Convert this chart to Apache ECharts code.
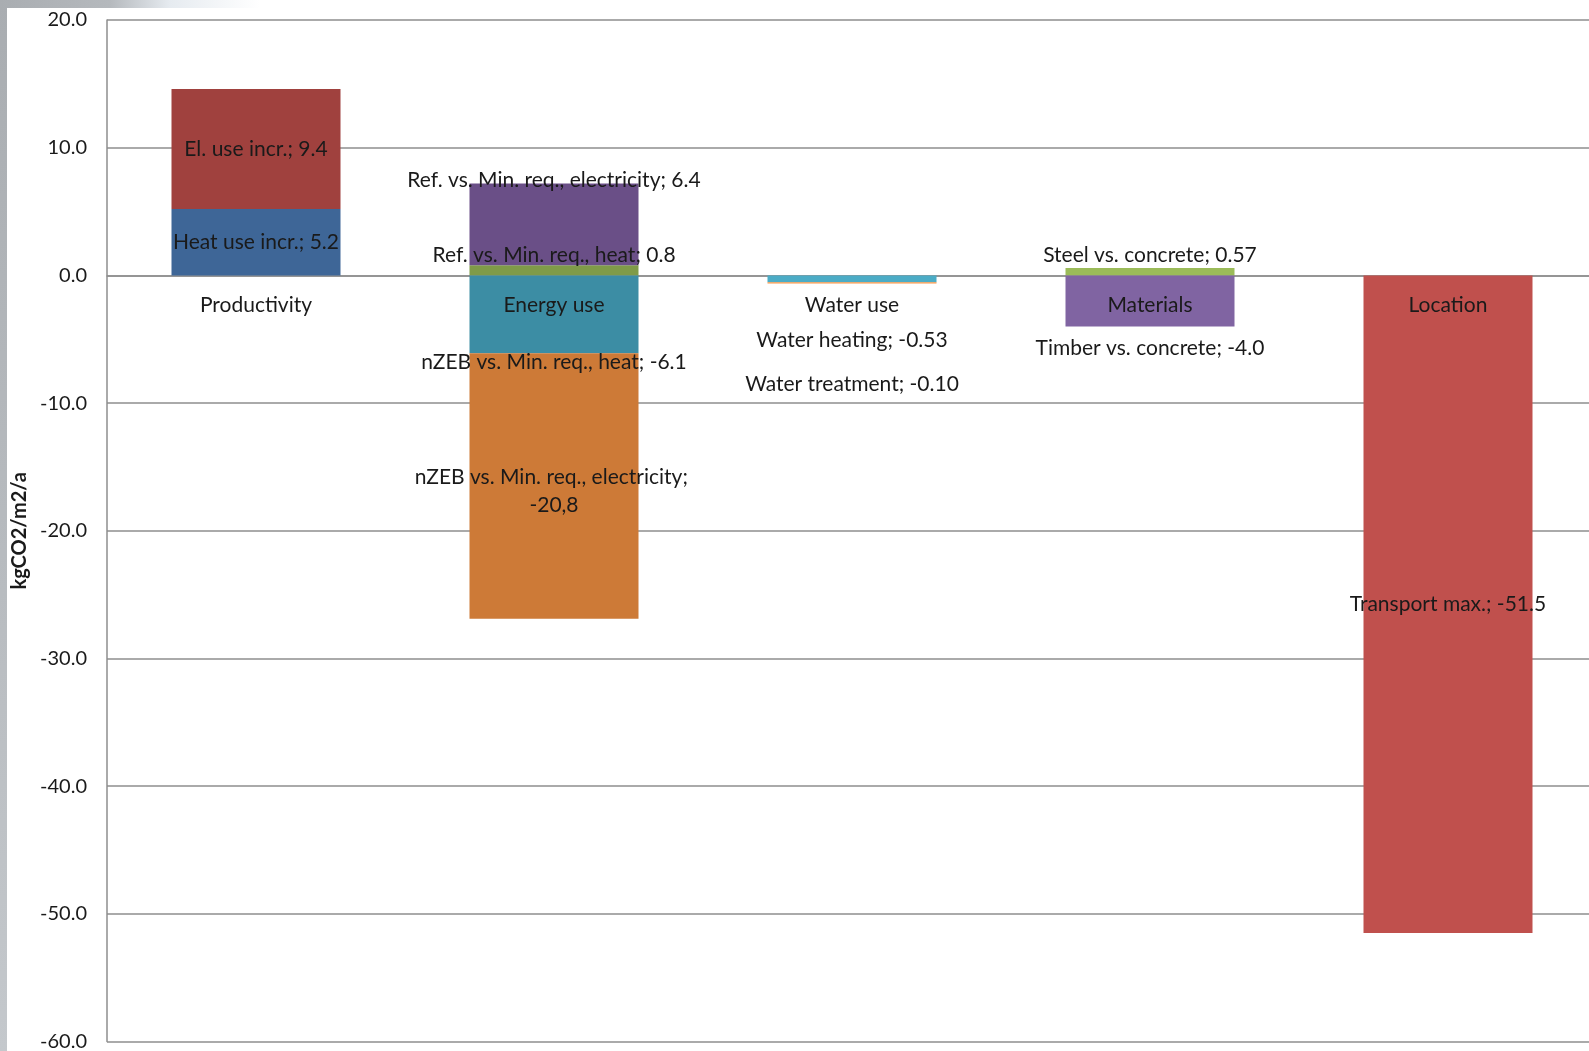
<!DOCTYPE html>
<html>
<head>
<meta charset="utf-8">
<script src="https://cdn.jsdelivr.net/npm/echarts@6/dist/echarts.min.js"></script>
<style>
  html, body { margin: 0; padding: 0; width: 1589px; height: 1051px; overflow: hidden; }
  body { background: linear-gradient(to bottom, #a9adb1, #b9bdc1 60%, #c4c8cc); position: relative; }
  #topband { position: absolute; left: 0; top: 0; width: 1589px; height: 8px;
    background: linear-gradient(to right, #a9adb1 0px, #b5b9bd 110px, #e6ebf0 170px, #ffffff 260px); }
  #chart { position: absolute; left: 7px; top: 8px; width: 1582px; height: 1043px; background: #fff; }
</style>
</head>
<body>
<div id="topband"></div>
<div id="chart"></div>
<script>
// categories on the x axis
var categories = ['Productivity', 'Energy use', 'Water use', 'Materials', 'Location'];

// one entry per stacked segment
var segmentNames = [
  'Heat use incr.', 'El. use incr.',
  'Ref. vs. Min. req., heat', 'Ref. vs. Min. req., electricity',
  'nZEB vs. Min. req., heat', 'nZEB vs. Min. req., electricity',
  'Water heating', 'Water treatment',
  'Steel vs. concrete', 'Timber vs. concrete',
  'Transport max.'
];
var segmentCategory = [0, 0, 1, 1, 1, 1, 2, 2, 3, 3, 4];
var segmentValues = [5.2, 9.4, 0.8, 6.4, -6.1, -20.8, -0.53, -0.10, 0.57, -4.0, -51.5];
// value text as printed in the labels
var segmentValueText = ['5.2', '9.4', '0.8', '6.4', '-6.1', '-20,8', '-0.53', '-0.10', '0.57', '-4.0', '-51.5'];

// y axis
var yMin = -60, yMax = 20, yStep = 10;

// styles (kept apart from the data)
var segmentColors = ['#3E6697', '#A0413E', '#7F9B48', '#6A4F87', '#3C8DA4', '#CD7A37',
  '#4BACC6', '#F79646', '#9BBB59', '#8064A2', '#C0504D'];
var labelOffsetY = [0, 0, -15, -44, 48, 5, 61, 101, -17, 47, 0];

var FONT = 'Lato';
var chart = echarts.init(document.getElementById('chart'));

var series = segmentNames.map(function (name, i) {
  var data = categories.map(function (c, ci) {
    return ci === segmentCategory[i] ? segmentValues[i] : '-';
  });
  var label = {
    show: true,
    position: 'inside',
    color: '#1a1a1a',
    fontFamily: FONT,
    fontSize: 21,
    lineHeight: 28,
    align: 'center',
    formatter: function () {
      return name + '; ' + segmentValueText[i];
    }
  };
  if (i === 5) {
    label.width = 300;
    label.overflow = 'break';
  }
  return {
    name: name,
    type: 'bar',
    stack: 'all',
    barWidth: 169,
    itemStyle: { color: segmentColors[i] },
    label: label,
    labelLayout: { dy: labelOffsetY[i], hideOverlap: false },
    data: data,
    animation: false,
    z: 2
  };
});

// category names sit just under the zero line, as in the original
series.push({
  name: 'categoryNames',
  type: 'scatter',
  symbolSize: 0,
  silent: true,
  z: 10,
  itemStyle: { opacity: 1 },
  data: categories.map(function (c) { return [c, 0]; }),
  label: {
    show: true,
    position: 'bottom',
    distance: 19,
    color: '#1a1a1a',
    opacity: 1,
    fontFamily: FONT,
    fontSize: 21,
    formatter: function (p) { return p.value[0]; }
  },
  labelLayout: { hideOverlap: false },
  animation: false
});

var option = {
  animation: false,
  grid: { left: 100, top: 12, width: 1490, height: 1021.5, containLabel: false, outerBoundsMode: 'none' },
  xAxis: {
    type: 'category',
    data: categories,
    axisLine: { show: true, onZero: true, lineStyle: { color: '#8e8e8e', width: 1.5 } },
    axisTick: { show: false },
    axisLabel: { show: false },
    splitLine: { show: false }
  },
  yAxis: {
    type: 'value',
    min: yMin,
    max: yMax,
    interval: yStep,
    name: 'kgCO2/m2/a',
    nameLocation: 'middle',
    nameGap: 76,
    nameRotate: 90,
    nameTextStyle: { color: '#1a1a1a', fontFamily: FONT, fontSize: 20, fontWeight: 'bold' },
    axisLine: { show: true, lineStyle: { color: '#8e8e8e', width: 1.5 } },
    axisTick: { show: false },
    axisLabel: {
      color: '#1a1a1a',
      fontFamily: FONT,
      fontSize: 20,
      margin: 20,
      formatter: function (v) { return v.toFixed(1); }
    },
    splitLine: { show: true, lineStyle: { color: '#8e8e8e', width: 1.5 } }
  },
  series: series
};
chart.setOption(option);
</script>
</body>
</html>
